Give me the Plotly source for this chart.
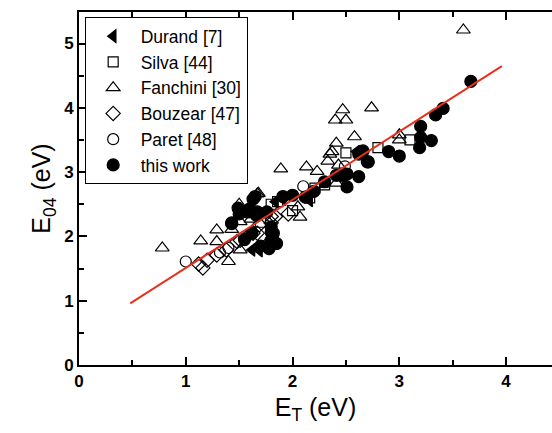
import plotly.graph_objects as go

# Durand [7] (filled left-pointing triangles)
durand_x = [1.62, 1.69, 1.79, 1.84, 1.91, 2.16, 2.60, 1.84]
durand_y = [1.79, 1.78, 1.90, 1.94, 2.58, 2.56, 3.32, 2.54]

# Silva [44] (open squares)
silva_x = [1.80, 1.86, 2.16, 2.21, 2.30, 2.50, 2.80, 3.10, 1.70, 2.00]
silva_y = [2.50, 2.54, 2.60, 2.75, 2.80, 3.30, 3.38, 3.50, 2.22, 2.40]

# Fanchini [30] (open triangles)
fanchini_x = [0.78, 1.14, 1.29, 1.29, 1.40, 1.43, 1.50, 1.51, 1.51, 1.61, 1.67,
              1.89, 2.05, 2.07, 2.13, 2.23, 2.27, 2.33, 2.35, 2.40, 2.41, 2.43,
              2.41, 2.47, 2.50, 2.58, 2.74, 3.00, 3.00, 3.60, 1.68, 2.37]
fanchini_y = [1.82, 1.93, 1.92, 2.10, 1.61, 2.11, 2.50, 2.23, 1.79, 2.27, 2.66,
              3.05, 2.46, 2.30, 3.08, 3.01, 2.81, 3.17, 3.28, 3.81, 3.45, 3.11,
              2.83, 3.97, 3.81, 3.55, 4.00, 3.58, 3.50, 5.21, 2.67, 3.32]

# Bouzear [47] (open diamonds)
bouzear_x = [1.12, 1.16, 1.20, 1.29, 1.38, 1.48, 1.51, 1.56, 1.63, 1.67, 1.69,
             1.76, 1.80, 1.84, 1.96, 1.80]
bouzear_y = [1.57, 1.51, 1.63, 1.71, 1.79, 1.92, 1.94, 1.97, 2.05, 2.05, 2.18,
             1.87, 2.21, 2.31, 2.35, 2.31]

# Paret [48] (open circles)
paret_x = [1.00, 1.32, 1.40, 2.10, 2.49]
paret_y = [1.61, 1.75, 1.82, 2.78, 3.09]

# this work (filled circles)
work_x = [1.43, 1.43, 1.49, 1.50, 1.58, 1.60, 1.62, 1.63, 1.65, 1.66, 1.67,
          1.76, 1.78, 1.80, 1.80, 1.80, 1.82, 1.85, 1.91, 2.00, 2.12, 2.41,
          2.47, 2.51, 2.51, 2.62, 2.62, 2.66, 2.70, 2.71, 2.90, 3.00, 3.19,
          3.20, 3.20, 3.30, 3.34, 3.41, 3.67, 2.20, 2.30, 1.55, 1.70]
work_y = [2.20, 2.21, 2.44, 2.35, 2.38, 2.43, 2.05, 2.58, 2.62, 2.33, 2.38,
          2.38, 1.81, 2.15, 2.07, 1.94, 2.05, 1.89, 2.62, 2.64, 2.61, 2.95,
          2.94, 2.77, 2.97, 2.93, 3.28, 3.33, 3.16, 3.16, 3.32, 3.25, 3.38,
          3.71, 3.54, 3.49, 3.89, 3.99, 4.41, 2.70, 2.85, 1.95, 1.85]

# linear fit line
fit_x = [0.48, 3.96]
fit_slope = 1.06
fit_intercept = 0.45

fig = go.Figure()

def add(x, y, name, symbol, size=11):
    fig.add_trace(go.Scatter(
        x=x, y=y, mode="markers", name=name,
        marker=dict(symbol=symbol, size=size, color="black",
                    line=dict(color="black", width=1.2))))

add(durand_x, durand_y, "Durand [7]", "triangle-left")
add(silva_x, silva_y, "Silva [44]", "square-open", 10)
add(fanchini_x, fanchini_y, "Fanchini [30]", "triangle-up-open", 12)
add(bouzear_x, bouzear_y, "Bouzear [47]", "diamond-open", 11)
add(paret_x, paret_y, "Paret [48]", "circle-open", 11)
add(work_x, work_y, "this work", "circle", 12)

fig.add_trace(go.Scatter(
    x=fit_x, y=[fit_slope * v + fit_intercept for v in fit_x],
    mode="lines", line=dict(color="#e8301c", width=2), showlegend=False))

tickfont = dict(size=17, family="Liberation Sans, Arial, sans-serif", weight="bold")
fig.update_layout(
    width=552, height=433,
    margin=dict(l=79, r=0, t=12, b=68),
    plot_bgcolor="white", paper_bgcolor="white",
    font=dict(family="Liberation Sans, Arial, sans-serif", color="black"),
    legend=dict(x=0.012, y=0.985, xanchor="left", yanchor="top",
                bgcolor="white", bordercolor="black", borderwidth=1,
                font=dict(size=17.5), tracegroupgap=0, itemwidth=45),
    xaxis=dict(range=[0, 4.43], showline=True, linecolor="black", linewidth=2,
               mirror="ticks", ticks="inside", ticklen=8, tickwidth=1.5,
               tickcolor="black", dtick=1, showgrid=False, zeroline=False,
               tickfont=tickfont,
               minor=dict(dtick=0.5, ticks="inside", ticklen=5, tickwidth=1.5, tickcolor="black"),
               title=dict(text="E<sub>T</sub> (eV)", font=dict(size=25), standoff=8)),
    yaxis=dict(range=[0, 5.49], showline=True, linecolor="black", linewidth=2,
               mirror=False, ticks="inside", ticklen=8, tickwidth=1.5,
               tickcolor="black", dtick=1, showgrid=False, zeroline=False,
               tickfont=tickfont,
               minor=dict(dtick=0.5, ticks="inside", ticklen=5, tickwidth=1.5, tickcolor="black"),
               title=dict(text="E<sub>04</sub> (eV)", font=dict(size=25), standoff=6)),
)

fig.write_html("out.html")
